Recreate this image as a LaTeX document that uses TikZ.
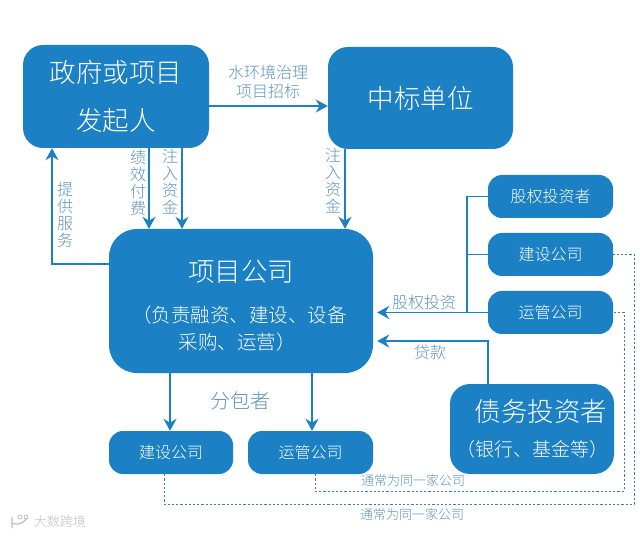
\documentclass[tikz,border=0pt]{standalone}
\usepackage{fontspec}
\setmainfont{Noto Sans CJK SC Light}
\usetikzlibrary{arrows.meta}
\definecolor{boxblue}{HTML}{1B80C4}
\definecolor{labelblue}{HTML}{5C93B8}
\definecolor{dashblue}{HTML}{3F7FA8}
\newcommand{\fsize}[1]{\fontsize{#1}{#1}\selectfont}
\tikzset{
  box/.style={fill=boxblue,text=white,inner sep=0pt,align=center},
  bigbox/.style={box,rounded corners=20pt,font=\fsize{26.5}},
  smallbox/.style={box,rounded corners=14pt,minimum width=125pt,minimum height=43pt,font=\fsize{16}},
  flow/.style={draw=boxblue,line width=1.7pt,-{Stealth[length=12pt,width=13pt]}},
  plainline/.style={draw=boxblue,line width=1.7pt},
  dashline/.style={draw=dashblue,line width=0.9pt,dash pattern=on 2.2pt off 2pt},
  lab/.style={text=labelblue,inner sep=0pt,align=center,font=\fontsize{16}{17}\selectfont},
}
\begin{document}
\begin{tikzpicture}[x=1pt,y=-1pt]
\useasboundingbox (0,0) rectangle (640,537);
% main boxes
\node [bigbox,minimum width=186pt,minimum height=103pt] (govt) at (116,96.5) {政府或项目\\[22pt]发起人};
\node [bigbox,minimum width=185pt,minimum height=102pt] (winner) at (420.5,98) {中标单位};
\node [bigbox,rounded corners=28pt,minimum width=264pt,minimum height=144pt] (project) at (241,301)
  {\rule{0pt}{31pt}项目公司\\[14pt]{\fsize{19.5}\hspace{-3pt}（负责融资、建设、设备}\\[1pt]{\fsize{19.5}\hspace{-8pt}采购、运营）}};
\node [bigbox,minimum width=164pt,minimum height=90pt] (debt) at (532,429)
  {\hspace{18pt}债务投资者\\[9pt]{\fsize{19}（银行、基金等）}};
% small boxes
\node [smallbox] (equity) at (550.5,196.5) {股权投资者};
\node [smallbox] (buildr) at (550.5,254.5) {建设公司};
\node [smallbox] (operr) at (550.5,312.5) {运管公司};
\node [smallbox,minimum width=124pt] (buildb) at (171,452.5) {建设公司};
\node [smallbox] (operb) at (310.5,452.5) {运管公司};
% helper coordinates
\coordinate (payx) at (149,0);
\coordinate (injx) at (182,0);
\coordinate (winx) at (345,0);
\coordinate (svcx) at (52,0);
\coordinate (busx) at (467,0);
\coordinate (debtx) at (488,0);
\coordinate (loany) at (0,341);
\coordinate (subax) at (170,0);
\coordinate (subbx) at (312,0);
\coordinate (svcy) at (0,264);
\coordinate (dasha) at (315,491);
\coordinate (dashb) at (164,504);
\coordinate (rightax) at (624,0);
\coordinate (rightbx) at (634,0);
% connectors
\draw [flow] (govt.east |- 0,106) -- (winner.west |- 0,106);
\draw [flow] (govt.south -| payx) -- (project.north -| payx);
\draw [flow] (govt.south -| injx) -- (project.north -| injx);
\draw [flow] (winner.south -| winx) -- (project.north -| winx);
\draw [flow] (project.west |- svcy) -- (svcx |- svcy) -- (govt.south -| svcx);
\draw [plainline] (equity.west) -- (busx |- equity.west) -- (busx |- operr.west);
\draw [plainline] (buildr.west) -- (busx |- buildr.west);
\draw [flow,shorten >=4pt] (operr.west) -- (project.east |- operr.west);
\draw [flow,shorten >=4pt] (debt.north -| debtx) -- (debtx |- loany) -- (project.east |- loany);
\draw [flow] (project.south -| subax) -- (buildb.north -| subax);
\draw [flow] (project.south -| subbx) -- (operb.north -| subbx);
\draw [dashline] (buildb.south -| dashb) -- (dashb) -- (rightbx |- dashb) -- (rightbx |- buildr.east) -- (buildr.east);
\draw [dashline] (operb.south -| dasha) -- (dasha) -- (rightax |- dasha) -- (rightax |- operr.east) -- (operr.east);
% labels
\node [lab,font=\fontsize{16}{19}\selectfont] (bidlab) at (268,82) {水环境治理\\项目招标};
\node [lab] (paylab) at (138,183) {绩\\效\\付\\费};
\node [lab] (injlab) at (170,182) {注\\入\\资\\金};
\node [lab] (svclab) at (65,215) {提\\供\\服\\务};
\node [lab] (winlab) at (333,181) {注\\入\\资\\金};
\node [lab,font=\fsize{20}] (sublab) at (240,401) {分包者};
\node [lab] (eqlab) at (424,302) {股权投资};
\node [lab] (loanlab) at (430,352) {贷款};
\node [lab,font=\fsize{13}] (samea) at (413,481) {通常为同一家公司};
\node [lab,font=\fsize{13}] (sameb) at (412,515) {通常为同一家公司};
\node [lab,text=black!25,font=\fsize{13}] (mark) at (60,522) {大数跨境};
% logo
\draw [black!25,line width=1.3pt] (12,517) -- (12,528) (12,523) .. controls (16,525) and (22,525) .. (27,518);
\draw [black!25,line width=0.8pt] (20,517) circle (2pt) (26,517) circle (2pt);
\end{tikzpicture}
\end{document}
